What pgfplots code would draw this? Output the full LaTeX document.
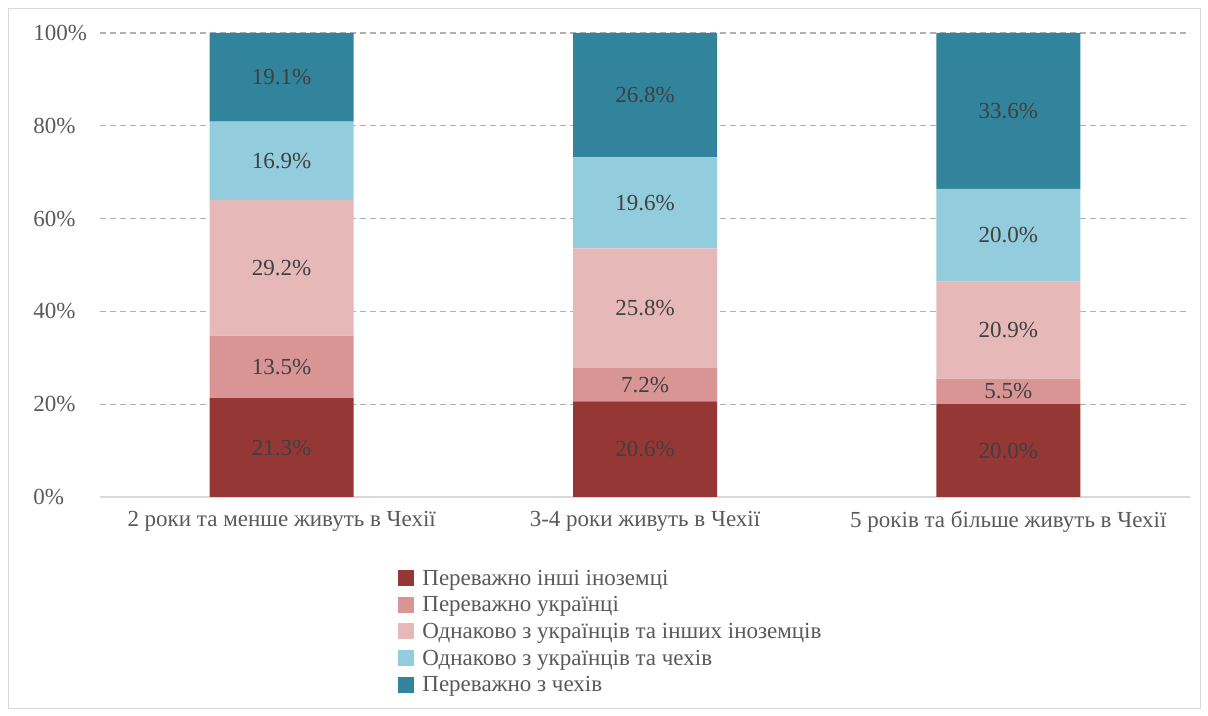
\documentclass[border=0pt]{standalone}
\usepackage{fontspec}
\setmainfont{Liberation Serif}
\usepackage{pgfplots}
\usepackage{pgfplotstable}
\pgfplotsset{compat=1.18}
\definecolor{c1}{HTML}{953735}
\definecolor{c2}{HTML}{D99594}
\definecolor{c3}{HTML}{E6B9B8}
\definecolor{c4}{HTML}{93CDDD}
\definecolor{c5}{HTML}{31849B}
\definecolor{txt}{HTML}{595959}
\definecolor{lbl}{HTML}{404040}
\definecolor{gridc}{HTML}{B0B0B0}
\definecolor{axc}{HTML}{D9D9D9}
\pgfplotstableread{
x a b c d e
0 21.3 13.5 29.2 16.9 19.1
1 20.6 7.2 25.8 19.6 26.8
2 20.0 5.5 20.9 20.0 33.6
}\datatable
\newcommand{\fs}{\fontsize{11.5pt}{13pt}\selectfont}
\begin{document}
\begin{tikzpicture}
\path[use as bounding box] (-50pt,-109.5pt) rectangle (554pt,248.5pt);
\draw[axc] (-46pt,-105.5pt) rectangle (550pt,244.5pt);
\begin{axis}[
  at={(0,0)}, anchor=south west,
  scale only axis, width=545pt, height=232pt,
  ybar stacked, bar width=72pt,
  xmin=-0.5, xmax=2.5, ymin=0, ymax=100,
  xtick={0,1,2},
  xticklabels={2 роки та менше живуть в Чехії, 3-4 роки живуть в Чехії, 5 років та більше живуть в Чехії},
  ytick={0,20,...,100},
  yticklabel={\pgfmathprintnumber{\tick}\%},
  /pgf/number format/assume math mode=true,
  axis x line*=bottom, axis y line*=left,
  y axis line style={draw=none},
  x axis line style={draw=axc, -, line width=0.8pt},
  xtick style={draw=none}, ytick style={draw=none},
  ymajorgrids,
  major grid style={gridc, dash pattern=on 3pt off 2pt, line width=0.6pt},
  ticklabel style={font=\fs, text=txt},
  xticklabel style={yshift=-3.5pt},
  yticklabel style={anchor=west, inner xsep=0pt, xshift=-33.5pt},
  nodes near coords={\pgfmathprintnumber[fixed,fixed zerofill,precision=1]{\pgfplotspointmeta}\%},
  point meta=explicit,
  nodes near coords align=center,
  every node near coord/.append style={font=\fs, text=lbl, anchor=center},
  legend style={at={(0.2734,-0.1487)}, anchor=north west, draw=none, fill=none,
    inner sep=0pt, row sep=0pt, font=\fs, text=txt,
    nodes={inner xsep=4pt, inner ysep=1pt, text height=8.5pt, text depth=2.8pt}},
  legend cell align=left,
  legend image code/.code={\fill[#1] (0pt,-3.3pt) rectangle (8pt,4.7pt);},
]
\addplot[fill=c1, draw=none] table[x=x, y=a, meta=a]{\datatable};
\addplot[fill=c2, draw=none] table[x=x, y=b, meta=b]{\datatable};
\addplot[fill=c3, draw=none] table[x=x, y=c, meta=c]{\datatable};
\addplot[fill=c4, draw=none] table[x=x, y=d, meta=d]{\datatable};
\addplot[fill=c5, draw=none] table[x=x, y=e, meta=e]{\datatable};
\legend{Переважно інші іноземці, Переважно українці, Однаково з українців та інших іноземців, Однаково з українців та чехів, Переважно з чехів}
\end{axis}
\end{tikzpicture}
\end{document}
